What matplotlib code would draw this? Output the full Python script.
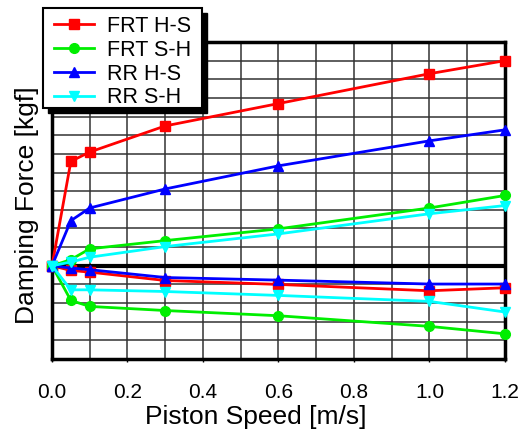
import matplotlib.pyplot as plt
from matplotlib.patches import Rectangle

plt.rcParams['font.family'] = ['Liberation Sans', 'DejaVu Sans']

# Piston speed sample points [m/s]
speed = [0.0, 0.05, 0.1, 0.3, 0.6, 1.0, 1.2]

# Damping force [kgf], compression side (upper) and rebound side (lower)
frt_hs_up = [0, 56, 61, 75, 87, 103, 110]
frt_hs_lo = [0, -2.5, -3.4, -7.9, -10.0, -13.4, -11.8]
frt_sh_up = [0, 3.3, 9.1, 13.5, 19.8, 31, 37.7]
frt_sh_lo = [0, -18.6, -21.8, -24.0, -26.8, -32.5, -36.5]
rr_hs_up = [0, 24.2, 31, 41.2, 53.6, 67, 72.9]
rr_hs_lo = [0, -1.2, -2.1, -6.3, -7.7, -9.8, -9.8]
rr_sh_up = [0, 2.0, 4.6, 10.3, 17.1, 27.9, 32.3]
rr_sh_lo = [0, -12.9, -12.9, -13.8, -15.9, -19.1, -24.8]

series = [
    ('FRT H-S', frt_hs_up, frt_hs_lo, '#ff0000', 's'),
    ('FRT S-H', frt_sh_up, frt_sh_lo, '#00ee00', 'o'),
    ('RR H-S', rr_hs_up, rr_hs_lo, '#0000ff', '^'),
    ('RR S-H', rr_sh_up, rr_sh_lo, '#00ffff', 'v'),
]

W, H = 529, 430
fig = plt.figure(figsize=(W / 100, H / 100), dpi=100)
ax = fig.add_axes([0.0983, 0.1651, 0.8563, 0.7372])

# grid every 0.1 m/s and every 10 kgf
for x in [i * 0.1 for i in range(1, 12)]:
    ax.axvline(x, color='#333333', lw=1.1, zorder=1)
for y in range(-40, 120, 10):
    ax.axhline(y, color='#333333', lw=1.1, zorder=1)
ax.axhline(0, color='black', lw=3, zorder=2)

for name, up, lo, col, mk in series:
    ax.plot(speed, up, color=col, marker=mk, ms=7, lw=2, label=name,
            zorder=3, clip_on=False)
    ax.plot(speed, lo, color=col, marker=mk, ms=7, lw=2, zorder=3,
            clip_on=False)

ax.set_xlim(0, 1.2)
ax.set_ylim(-50, 120)
ax.set_xticks([0.0, 0.2, 0.4, 0.6, 0.8, 1.0, 1.2])
ax.set_xticklabels(['0.0', '0.2', '0.4', '0.6', '0.8', '1.0', '1.2'])
ax.set_yticks([])
ax.tick_params(axis='x', length=2, width=1, pad=15, labelsize=15)

for s in ax.spines.values():
    s.set_linewidth(2.5)

ax.set_xlabel('Piston Speed [m/s]', fontsize=19)
ax.set_ylabel('Damping Force [kgf]', fontsize=19)
ax.xaxis.set_label_coords(0.450, -0.145)
ax.yaxis.set_label_coords(-0.029, 0.484)

# legend box with a solid drop shadow
bx0, by0, bx1, by1 = 42.5, 8, 202, 108
fig.patches.append(Rectangle(((bx0 + 5) / W, 1 - (by1 + 5) / H),
                             (bx1 - bx0) / W, (by1 - by0) / H,
                             transform=fig.transFigure, facecolor='black',
                             edgecolor='black', zorder=3))
fig.patches.append(Rectangle((bx0 / W, 1 - by1 / H),
                             (bx1 - bx0) / W, (by1 - by0) / H,
                             transform=fig.transFigure, facecolor='white',
                             edgecolor='black', lw=1.5, zorder=4))

leg = fig.legend(loc='upper left', bbox_to_anchor=(54 / W, 1 - 16 / H),
                 fontsize=15.5, frameon=False,
                 borderpad=0, labelspacing=0.13, handlelength=1.85,
                 handletextpad=0.6, borderaxespad=0)
leg.set_zorder(10)

fig.savefig('out.png', dpi=100)
